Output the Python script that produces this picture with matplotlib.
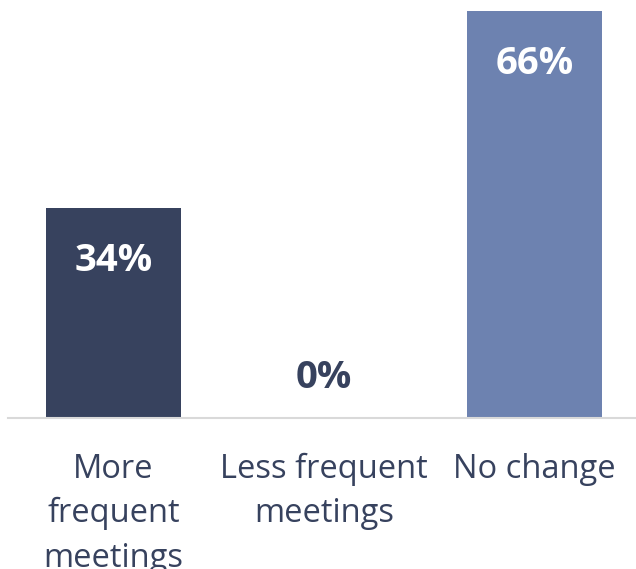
import matplotlib.pyplot as plt

categories = ["More\nfrequent\nmeetings", "Less frequent\nmeetings", "No change"]
values = [34, 0, 66]
colors = ["#37425e", "#37425e", "#6d82b0"]
text_dark = "#37425e"

plt.rcParams['font.family'] = ['Open Sans', 'DejaVu Sans']

fig = plt.figure(figsize=(6.36, 5.69), dpi=100)
ax = fig.add_axes([8 / 636, 151 / 569, 632 / 636, 418 / 569])

x = range(len(values))
ax.bar(x, values, width=0.641, color=colors, zorder=2)

for i, v in enumerate(values):
    if v > 0:
        ax.annotate(f"{v}%", (i, v), xytext=(0, -38), textcoords="offset points",
                    ha="center", va="center", color="white", fontsize=27.5, fontweight="bold")
    else:
        ax.annotate(f"{v}%", (i, v), xytext=(0, 29), textcoords="offset points",
                    ha="center", va="center", color=text_dark, fontsize=27.5, fontweight="bold")

ax.set_xlim(-0.5, 2.5)
ax.set_ylim(0, 67.8)
ax.set_xticks(list(x))
ax.set_xticklabels(categories, fontsize=23.5, color=text_dark, linespacing=1.45)
ax.tick_params(axis="x", length=0, pad=25)
ax.set_yticks([])
for side in ["top", "left", "right"]:
    ax.spines[side].set_visible(False)
ax.spines["bottom"].set_color("#d9d9d9")
ax.spines["bottom"].set_linewidth(1.5)

fig.savefig("out.png", dpi=100)
